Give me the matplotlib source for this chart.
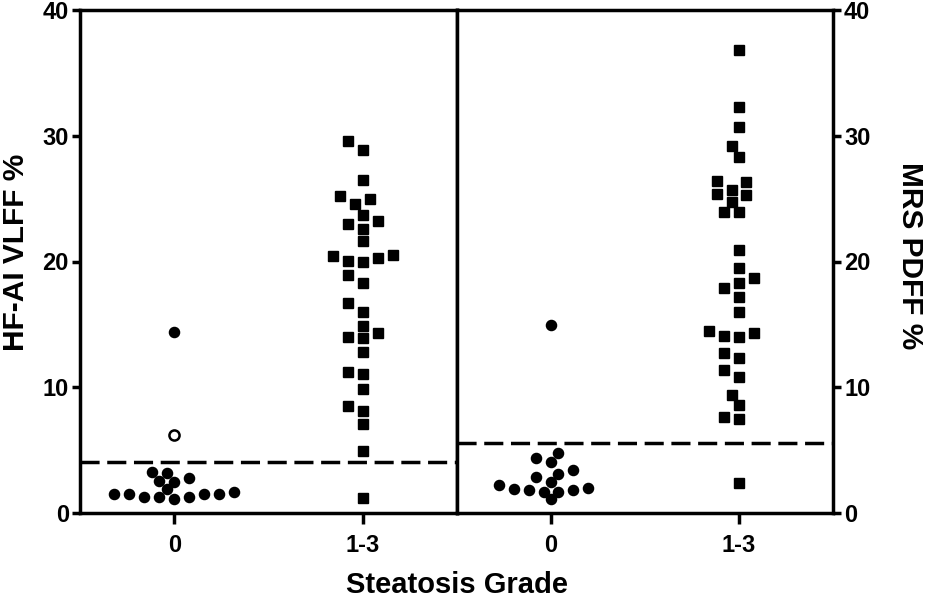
#! /usr/bin/env python

import numpy as np
import matplotlib
matplotlib.use('Agg')
import matplotlib.pyplot as plt

plt.rcParams['font.family'] = ['Liberation Sans', 'DejaVu Sans']
plt.rcParams['font.weight'] = 'bold'

# categories on each panel
grades = ['0', '1-3']

# HF-AI VLFF % (left panel)
vlff_g0 = [14.4, 3.16, 3.29, 2.57, 2.49, 2.76, 1.88, 1.70, 1.51, 1.51,
           1.30, 1.09, 1.25, 1.30, 1.51, 1.51]
vlff_g0_open = [6.2]
vlff_g13 = [29.6, 28.9, 26.5, 25.0, 24.6, 25.2, 23.7, 23.0, 22.6, 23.2,
            21.6, 20.4, 20.25, 19.96, 20.07, 20.5, 18.9, 18.3, 16.7, 16.0,
            14.9, 14.0, 14.3, 13.9, 12.8, 11.2, 11.05, 9.84, 8.5, 8.1,
            7.1, 4.9, 1.2]
vlff_cutoff = 4.05

# MRS PDFF % (right panel)
pdff_g0 = [14.95, 4.8, 4.03, 4.35, 3.42, 3.1, 2.89, 2.49, 1.96, 1.83,
           1.70, 1.70, 1.83, 1.88, 2.23, 1.09]
pdff_g13 = [36.8, 32.3, 30.7, 29.2, 28.3, 26.3, 26.4, 25.4, 24.7, 25.3,
            25.7, 23.9, 23.9, 20.9, 19.5, 18.7, 18.3, 17.9, 17.2, 16.0,
            14.5, 14.1, 14.0, 14.3, 12.75, 12.3, 11.4, 10.8, 9.4, 8.6,
            7.6, 7.5, 2.4]
pdff_cutoff = 5.6

W, H = 927, 601
PX_Y = 503 / 40.0     # pixels per y unit
PX_X = 377 / 2.0      # pixels per x unit


# simple swarm layout: spread points sideways so markers do not overlap much
def swarm(vals, step=7.5, size=10.0):
    vals = np.asarray(vals, dtype=float)
    offs = np.zeros(len(vals))
    placed = []
    cands = [0.0]
    for k in range(1, 40):
        cands += [-k * step, k * step]
    for i in np.argsort(vals):
        y = vals[i] * PX_Y
        for c in cands:
            if all((c - px) ** 2 + (y - py) ** 2 >= size ** 2 for px, py in placed):
                break
        placed.append((c, y))
        offs[i] = c
    return offs / PX_X


fig = plt.figure(figsize=(W / 100, H / 100), dpi=100)
axL = fig.add_axes([80 / W, (601 - 513) / H, 377 / W, 503 / H])
axR = fig.add_axes([457 / W, (601 - 513) / H, 376 / W, 503 / H])


def draw(ax, g0, g13, cutoff, open_pts=None):
    ax.plot(0 + swarm(g0, size=10.5), g0, 'o', color='black', ms=7.3, zorder=3)
    if open_pts is not None:
        ax.plot(0 + swarm(open_pts), open_pts, 'o', mfc='white', mec='black',
                mew=1.8, ms=7.3, zorder=3)
    ax.plot(1 + swarm(g13, size=11.8), g13, 's', color='black', ms=7.6, zorder=3)
    ax.axhline(cutoff, color='black', lw=2.5, ls=(0, (5.5, 2.2)), zorder=2)
    ax.set_xlim(-0.5, 1.5)
    ax.set_ylim(0, 40)
    ax.set_xticks([0, 1])
    ax.set_xticklabels(grades, fontsize=17, fontweight='bold')
    ax.set_yticks([0, 10, 20, 30, 40])
    for s in ax.spines.values():
        s.set_linewidth(2.5)
    ax.tick_params(axis='x', length=8, width=2.5, pad=7)
    ax.tick_params(axis='y', length=6, width=2.5, labelsize=17, pad=2)


draw(axL, vlff_g0, vlff_g13, vlff_cutoff, vlff_g0_open)
draw(axR, pdff_g0, pdff_g13, pdff_cutoff)

axR.yaxis.tick_right()

# axis titles
fig.text(16 / W, 1 - 252 / H, 'HF-AI VLFF %', rotation=90, ha='center',
         va='center', fontsize=21.5, fontweight='bold')
fig.text(910 / W, 1 - 256 / H, 'MRS PDFF %', rotation=270, ha='center',
         va='center', fontsize=21.5, fontweight='bold')
fig.text(457 / W, 1 - 585 / H, 'Steatosis Grade', ha='center', va='center',
         fontsize=21, fontweight='bold')

plt.savefig('out.png', dpi=100)
